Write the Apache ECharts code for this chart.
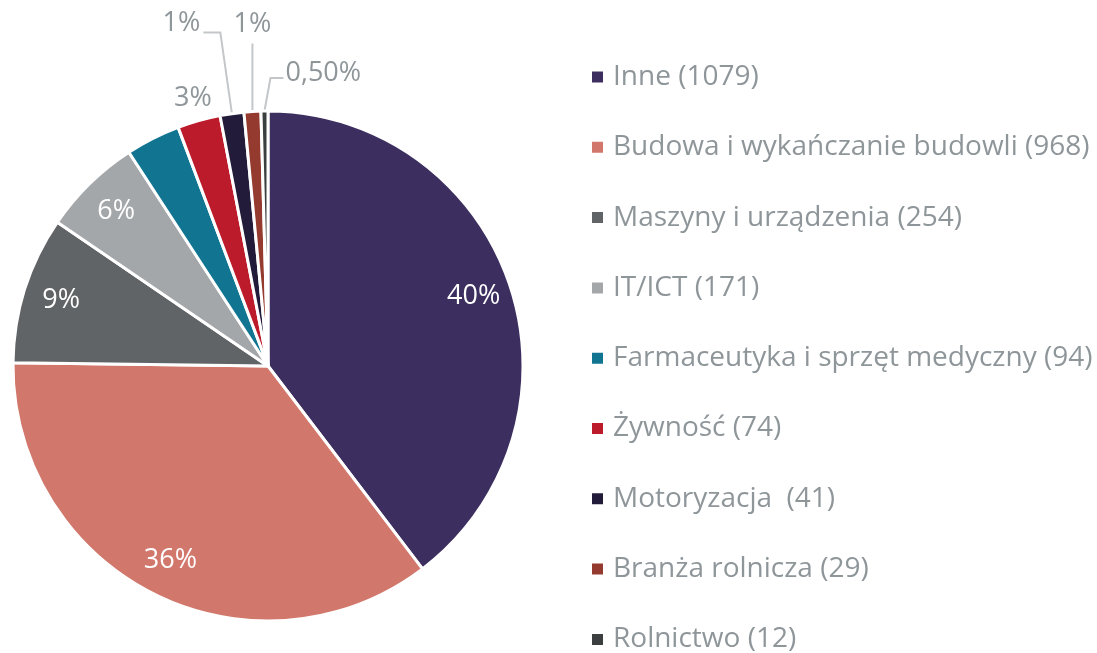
<!DOCTYPE html>
<html>
<head>
<meta charset="utf-8">
<script src="https://cdn.jsdelivr.net/npm/echarts@6/dist/echarts.min.js"></script>
<style>
  html, body { margin: 0; padding: 0; background: #fff; }
  #chartdiv { width: 1097px; height: 653px; }
</style>
</head>
<body>
<div id="chartdiv"></div>
<script>
const categories = [
  "Inne",
  "Budowa i wykańczanie budowli",
  "Maszyny i urządzenia",
  "IT/ICT",
  "Farmaceutyka i sprzęt medyczny",
  "Żywność",
  "Motoryzacja ",
  "Branża rolnicza",
  "Rolnictwo"
];
const counts = [1079, 968, 254, 171, 94, 74, 41, 29, 12];
// percent labels as printed on the chart (empty = no label)
const pctLabels = ["40%", "36%", "9%", "6%", "", "3%", "1%", "1%", "0,50%"];
const colors = [
  "#3c2f5f", "#d2776b", "#606466", "#a4a7aa", "#117592",
  "#bc1b2b", "#221b3a", "#953a2e", "#3b3f3f"
];

const FONT = "Open Sans";
const GREY = "#8f969a";
const INSIDE = [0, 1, 2, 3];

function renderPieChart() {
  const chartDiv = document.getElementById("chartdiv");
  const chart = echarts.init(chartDiv);

  const baseData = categories.map((name, i) => ({
    name: name,
    value: counts[i],
    itemStyle: { color: colors[i] }
  }));

  // visible pie, outside labels for small slices
  const pieData = baseData.map((d, i) => {
    const showOut = !INSIDE.includes(i) && pctLabels[i] !== "";
    return Object.assign({}, d, {
      label: { show: showOut },
      labelLine: { show: showOut && i !== 5, length: i === 6 ? 82 : 10, length2: i === 6 ? 17 : 0 }
    });
  });

  // transparent ring only used to place the big labels nearer the rim
  const ringData = baseData.map((d, i) => ({
    name: d.name,
    value: d.value,
    itemStyle: { color: "rgba(0,0,0,0)" },
    label: { show: INSIDE.includes(i) }
  }));

  const option = {
    animation: false,
    legend: {
      orient: "vertical",
      left: 590,
      top: 62,
      height: 610,
      padding: 0,
      itemWidth: 13,
      itemHeight: 13,
      itemGap: 40.3,
      icon: "rect",
      data: categories,
      formatter: name => `${name} (${counts[categories.indexOf(name)]})`,
      textStyle: {
        fontFamily: FONT,
        fontSize: 28,
        lineHeight: 30,
        color: GREY,
        padding: [0, 0, 0, 4]
      }
    },
    series: [
      {
        name: "main",
        type: "pie",
        center: [268, 366],
        radius: 255,
        startAngle: 90,
        clockwise: true,
        avoidLabelOverlap: false,
        itemStyle: { borderColor: "#fff", borderWidth: 3 },
        emphasis: { disabled: true },
        data: pieData,
        label: {
          position: "outside",
          formatter: p => pctLabels[p.dataIndex],
          fontFamily: FONT,
          fontSize: 27,
          color: GREY,
          distanceToLabelLine: 3
        },
        labelLine: {
          lineStyle: { color: "#c4c7c9", width: 2 }
        },
        labelLayout: params => {
          const pts = params.labelLinePoints;
          if (!pts) return {};
          const p0 = pts[0];
          if (params.dataIndex === 5) {
            return { x: p0[0] - 6, y: p0[1] - 22, align: "center", verticalAlign: "middle" };
          }
          if (params.dataIndex === 6) {
            return { dy: -9, labelLinePoints: pts };
          }
          if (params.dataIndex === 7) {
            const top = [p0[0], p0[1] - 68];
            return {
              x: top[0], y: top[1] - 6, align: "center", verticalAlign: "bottom",
              labelLinePoints: [p0, top, top]
            };
          }
          if (params.dataIndex === 8) {
            const mid = [p0[0] + 6, p0[1] - 33];
            const end = [p0[0] + 19, p0[1] - 33];
            return {
              x: end[0] + 2, y: end[1] - 5, align: "left", verticalAlign: "middle",
              labelLinePoints: [p0, mid, end]
            };
          }
          return {};
        }
      },
      {
        name: "labels",
        type: "pie",
        center: [268, 366],
        radius: [173, 255],
        startAngle: 90,
        clockwise: true,
        silent: true,
        emphasis: { disabled: true },
        data: ringData,
        label: {
          position: "inside",
          formatter: p => pctLabels[p.dataIndex],
          fontFamily: FONT,
          fontSize: 27,
          color: "#fff"
        },
        labelLine: { show: false }
      }
    ]
  };

  chart.setOption(option);
}

window.onload = function () {
  renderPieChart();
};
</script>
</body>
</html>
